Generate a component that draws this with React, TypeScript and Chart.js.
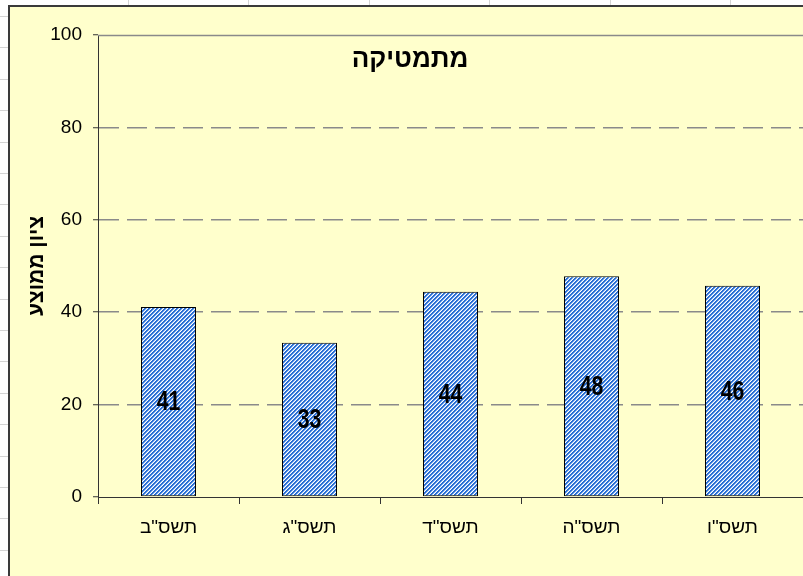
import React, { useEffect, useRef } from 'react';
import { Chart, registerables } from 'chart.js';

Chart.register(...registerables);

const categories = ['תשס"ב', 'תשס"ג', 'תשס"ד', 'תשס"ה', 'תשס"ו'];
const averageScores = [41.1, 33.4, 44.4, 47.8, 45.7];
const scoreLabels = ['41', '33', '44', '48', '46'];
const yMin = 0;
const yMax = 100;
const yStep = 20;
const chartTitle = 'מתמטיקה';
const yAxisTitle = 'ציון ממוצע';

const W = 803;
const H = 576;

function makeHatch(ctx: CanvasRenderingContext2D): CanvasPattern | string {
  const tile = document.createElement('canvas');
  tile.width = 4;
  tile.height = 4;
  const g = tile.getContext('2d');
  if (!g) return '#3b7fd8';
  const cols = ['#2a6fd4', '#2a6fd4', '#9cc0f0', '#ffffff'];
  for (let y = 0; y < 4; y++) {
    for (let x = 0; x < 4; x++) {
      g.fillStyle = cols[(x + y) % 4];
      g.fillRect(x, y, 1, 1);
    }
  }
  return ctx.createPattern(tile, 'repeat') || '#3b7fd8';
}

const backgroundPlugin = {
  id: 'sheetBackground',
  beforeDraw(chart: any) {
    const ctx: CanvasRenderingContext2D = chart.ctx;
    ctx.save();
    ctx.fillStyle = '#ffffff';
    ctx.fillRect(0, 0, W, H);
    ctx.strokeStyle = '#d4d4d4';
    ctx.lineWidth = 1;
    for (let i = 0; i < 19; i++) {
      const y = Math.round(16 + i * 31.4) + 0.5;
      ctx.beginPath();
      ctx.moveTo(0, y);
      ctx.lineTo(8, y);
      ctx.stroke();
    }
    for (let i = 0; i < 7; i++) {
      const x = Math.round(128 + i * 120.4) + 0.5;
      ctx.beginPath();
      ctx.moveTo(x, 0);
      ctx.lineTo(x, 5);
      ctx.stroke();
    }
    ctx.fillStyle = '#ffffcc';
    ctx.fillRect(8, 5, W - 8, H - 5);
    ctx.strokeStyle = '#3a3a3a';
    ctx.lineWidth = 2;
    ctx.beginPath();
    ctx.moveTo(9, H);
    ctx.lineTo(9, 6);
    ctx.lineTo(W, 6);
    ctx.stroke();
    ctx.restore();
  },
  beforeDatasetsDraw(chart: any) {
    const ctx: CanvasRenderingContext2D = chart.ctx;
    const a = chart.chartArea;
    ctx.save();
    ctx.strokeStyle = '#8a8a8a';
    ctx.lineWidth = 1.5;
    ctx.beginPath();
    ctx.moveTo(a.left, a.top + 0.5);
    ctx.lineTo(a.right, a.top + 0.5);
    ctx.stroke();
    ctx.restore();
  },
  afterDraw(chart: any) {
    const ctx: CanvasRenderingContext2D = chart.ctx;
    ctx.save();
    ctx.fillStyle = '#000000';
    ctx.font = 'bold 26px Arial, "Liberation Sans", sans-serif';
    ctx.textAlign = 'center';
    ctx.textBaseline = 'middle';
    ctx.fillText(chartTitle, 410, 60);
    ctx.restore();
  },
};

const barLabelPlugin = {
  id: 'barLabels',
  afterDatasetsDraw(chart: any) {
    const ctx: CanvasRenderingContext2D = chart.ctx;
    const meta = chart.getDatasetMeta(0);
    ctx.save();
    ctx.fillStyle = '#000000';
    ctx.font = 'bold 28px Arial, "Liberation Sans", sans-serif';
    ctx.textAlign = 'center';
    ctx.textBaseline = 'middle';
    meta.data.forEach((bar: any, i: number) => {
      const cx = bar.x;
      const cy = (bar.y + bar.base) / 2 + 1;
      ctx.save();
      ctx.translate(cx, cy);
      ctx.scale(0.76, 1);
      ctx.fillText(scoreLabels[i], 0, 0);
      ctx.restore();
    });
    ctx.restore();
  },
};

export default function App() {
  const canvasRef = useRef<HTMLCanvasElement | null>(null);

  useEffect(() => {
    const canvas = canvasRef.current;
    if (!canvas) return;
    const ctx = canvas.getContext('2d');
    if (!ctx) return;
    const hatch = makeHatch(ctx);

    const chart = new Chart(canvas, {
      type: 'bar',
      data: {
        labels: categories,
        datasets: [
          {
            data: averageScores,
            backgroundColor: hatch as any,
            borderColor: '#000000',
            borderWidth: 1,
            borderSkipped: false,
            barPercentage: 0.39,
            categoryPercentage: 1,
          },
        ],
      },
      options: {
        animation: false,
        responsive: false,
        devicePixelRatio: 1,
        layout: { padding: { left: 21, top: 35, right: 0, bottom: 0 } },
        plugins: {
          legend: { display: false },
          tooltip: { enabled: false },
          title: { display: false },
        },
        scales: {
          x: {
            offset: true,
            afterFit: (scale: any) => {
              scale.height = 79;
            },
            grid: {
              offset: true,
              drawOnChartArea: false,
              drawTicks: true,
              tickLength: 7,
              tickColor: '#333333',
              tickWidth: 1,
            },
            border: { display: true, color: '#333333', width: 1 },
            ticks: {
              color: '#000000',
              padding: 12,
              font: { family: 'Arial, "Liberation Sans", sans-serif', size: 19 },
              maxRotation: 0,
            },
          },
          y: {
            min: yMin,
            max: yMax,
            afterFit: (scale: any) => {
              scale.width = 77;
            },
            grid: {
              color: (c: any) =>
                c.tick && (c.tick.value === yMin || c.tick.value === yMax)
                  ? 'rgba(0,0,0,0)'
                  : '#8a8a8a',
              lineWidth: 1.5,
              drawTicks: true,
              tickLength: 5,
              tickColor: '#333333',
              tickWidth: 1,
            },
            border: { display: true, color: '#333333', width: 1, dash: [20, 8] },
            ticks: {
              stepSize: yStep,
              color: '#000000',
              padding: 11,
              font: { family: 'Arial, "Liberation Sans", sans-serif', size: 19 },
            },
            title: {
              display: true,
              text: yAxisTitle,
              color: '#000000',
              font: { family: 'Arial, "Liberation Sans", sans-serif', size: 21, weight: 'bold' },
              padding: { top: 4, bottom: 0 },
            },
          },
        },
      },
      plugins: [backgroundPlugin, barLabelPlugin],
    });

    return () => {
      chart.destroy();
    };
  }, []);

  return (
    <div style={{ position: 'absolute', left: 0, top: 0, width: W, height: H }}>
      <canvas ref={canvasRef} width={W} height={H} style={{ display: 'block', width: W, height: H }} />
    </div>
  );
}
